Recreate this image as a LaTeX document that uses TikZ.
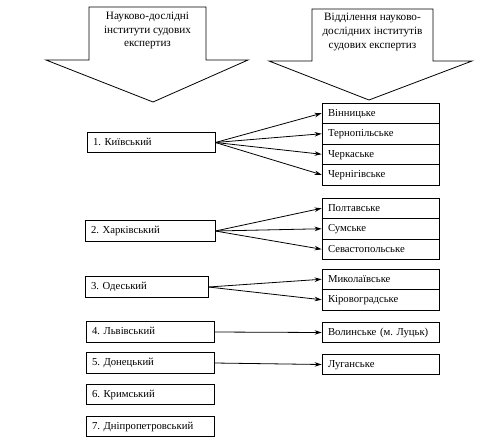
\documentclass[tikz,border=0pt]{standalone}
\usepackage{fontspec}
\setmainfont{Liberation Serif}
\usetikzlibrary{arrows.meta}
\frenchspacing
\begin{document}
\begin{tikzpicture}[x=1pt,y=-1pt,
  txt/.style={font=\fontsize{10.7}{13.5}\selectfont\frenchspacing},
  htxt/.style={font=\fontsize{11.2}{13.8}\selectfont},
  box/.style={txt, draw, line width=0.8pt, inner ysep=0pt, minimum height=20.5pt, text height=7.5pt, text depth=2pt, align=left, inner xsep=6pt},
  lbox/.style={box, text width=116pt},
  rbox/.style={box, text width=105pt},
  bigarrow/.style={draw, line width=0.8pt, line join=miter},
  conn/.style={draw, line width=0.8pt, -{Stealth[length=7pt,width=4.5pt]}}
]
\useasboundingbox (0,0) rectangle (498,445);

% header arrows
\draw[bigarrow] (89,7) -- (206,7) -- (206,60) -- (248,60) -- (153,102) -- (46,60) -- (89,60) -- cycle;
\node[htxt, align=center] (hl) at (147.5,30.5) {Науково-дослідні\\інститути судових\\експертиз};
\draw[bigarrow] (312,9) -- (433,9) -- (433,61) -- (472,61) -- (369,100) -- (269,61) -- (312,61) -- cycle;
\node[htxt, align=center] (hr) at (372.5,32) {Відділення науково-\\дослідних інститутів\\судових експертиз};

% left boxes
\node[lbox] (kyiv) at (151,142.5) {1. Київський};
\node[lbox, text width=118pt] (khar) at (150,231) {2. Харківський};
\node[lbox, text width=111pt] (odes) at (146.5,287) {3. Одеський};
\node[lbox] (lviv) at (150,332) {4. Львівський};
\node[lbox] (don) at (150,363) {5. Донецький};
\node[lbox] (krym) at (150,394.5) {6. Кримський};
\node[lbox] (dnip) at (150,426.5) {7. Дніпропетровський};

% right boxes
\node[rbox] (vin) at (380.5,113.25) {Вінницьке};
\node[rbox] (ter) at (380.5,133.75) {Тернопільське};
\node[rbox] (cherk) at (380.5,154.25) {Черкаське};
\node[rbox] (chern) at (380.5,174.75) {Чернігівське};
\node[rbox] (polt) at (380.5,208.25) {Полтавське};
\node[rbox] (sum) at (380.5,228.75) {Сумське};
\node[rbox] (sev) at (380.5,249.25) {Севастопольське};
\node[rbox] (myk) at (380.5,279.25) {Миколаївське};
\node[rbox] (kir) at (380.5,299.75) {Кіровоградське};
\node[rbox] (vol) at (380.5,332.5) {Волинське (м. Луцьк)};
\node[rbox] (luh) at (380.5,364.5) {Луганське};

% connectors
\foreach \t in {vin,ter,cherk,chern} \draw[conn] (kyiv.east) -- (\t.west);
\foreach \t in {polt,sum,sev} \draw[conn] (khar.east) -- (\t.west);
\foreach \t in {myk,kir} \draw[conn] (odes.east) -- (\t.west);
\draw[conn] (lviv.east) -- (vol.west);
\draw[conn] (don.east) -- (luh.west);
\end{tikzpicture}
\end{document}
